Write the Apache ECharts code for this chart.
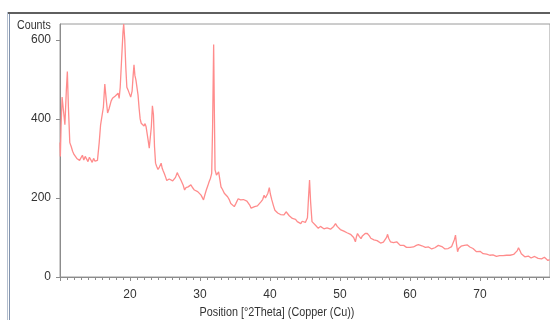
<!DOCTYPE html>
<html>
<head>
<meta charset="utf-8">
<script src="https://cdn.jsdelivr.net/npm/echarts@6/dist/echarts.min.js"></script>
<style>html,body{margin:0;padding:0;background:#fff;}#c{width:550px;height:320px;}</style>
</head>
<body>
<div id="c"></div>
<script>
var twoTheta = [10.0,10.05,10.15,10.3,10.5,10.7,10.9,11.05,11.2,11.4,11.6,11.8,12.0,12.2,12.4,12.6,12.8,13.0,13.2,13.4,13.6,13.8,14.0,14.2,14.4,14.6,14.8,15.0,15.2,15.35,15.6,15.8,16.0,16.2,16.4,16.6,16.8,17.0,17.1,17.3,17.5,17.7,17.9,18.1,18.3,18.45,18.6,18.8,19.0,19.1,19.25,19.4,19.55,19.7,19.9,20.1,20.3,20.45,20.57,20.7,20.85,21.0,21.15,21.3,21.45,21.6,21.8,22.0,22.15,22.3,22.45,22.6,22.75,22.9,23.05,23.2,23.35,23.5,23.65,23.8,24.0,24.2,24.45,24.6,24.75,24.9,25.1,25.25,25.4,25.6,25.85,26.1,26.3,26.5,26.75,26.9,27.1,27.25,27.4,27.6,27.8,28.0,28.3,28.5,28.7,28.9,29.2,29.4,29.67,29.9,30.15,30.3,30.5,30.7,30.9,31.1,31.3,31.5,31.67,31.8,31.95,32.05,32.15,32.35,32.5,32.66,32.85,33.0,33.2,33.47,33.7,33.94,34.2,34.4,34.65,34.9,35.1,35.3,35.45,35.6,35.8,36.0,36.2,36.46,36.7,36.9,37.1,37.3,37.55,37.8,38.0,38.2,38.45,38.7,38.95,39.16,39.35,39.5,39.7,39.9,40.05,40.26,40.5,40.7,40.9,41.1,41.3,41.5,41.7,42.0,42.3,42.5,42.75,42.96,43.2,43.4,43.65,43.9,44.15,44.4,44.6,44.85,45.05,45.2,45.35,45.5,45.65,45.8,46.0,46.25,46.5,46.7,46.9,47.2,47.45,47.7,47.9,48.15,48.4,48.65,48.9,49.1,49.36,49.6,49.8,50.05,50.3,50.55,50.77,51.0,51.25,51.5,51.7,51.95,52.2,52.35,52.5,52.75,53.0,53.2,53.4,53.6,53.9,54.1,54.2,54.4,54.6,54.85,55.05,55.3,55.55,55.8,56.0,56.2,56.45,56.65,56.8,56.95,57.2,57.45,57.65,57.9,58.1,58.35,58.6,58.85,59.1,59.3,59.5,59.75,60.0,60.25,60.5,60.7,60.9,61.2,61.45,61.7,61.95,62.2,62.4,62.65,62.9,63.1,63.3,63.55,63.8,64.05,64.3,64.55,64.8,65.0,65.2,65.45,65.7,65.95,66.2,66.35,66.5,66.65,66.8,66.95,67.1,67.3,67.5,67.75,67.95,68.2,68.35,68.55,68.8,69.0,69.25,69.5,69.75,70.0,70.2,70.45,70.7,70.95,71.15,71.4,71.65,71.85,72.1,72.35,72.6,72.8,73.05,73.3,73.55,73.8,74.05,74.3,74.55,74.8,75.05,75.3,75.5,75.7,75.9,76.15,76.4,76.65,76.9,77.1,77.3,77.55,77.8,78.05,78.3,78.55,78.8,79.0,79.2,79.45,79.7,79.95];
var counts = [340,305,380,455,420,385,470,520,430,340,330,318,310,315,300,305,295,300,308,296,305,300,292,303,298,290,300,293,288,295,340,385,380,430,488,450,415,425,420,445,452,455,458,462,465,452,480,550,620,640,600,530,480,474,470,455,470,510,537,510,498,495,460,427,400,389,385,382,388,380,378,345,326,330,380,433,410,330,288,280,272,278,288,275,268,262,252,244,241,248,247,243,240,252,264,258,253,246,241,232,220,226,228,225,233,227,220,224,216,212,207,202,195,208,220,230,241,250,262,380,588,420,271,258,262,266,245,228,222,212,208,203,195,186,182,178,185,190,198,203,195,190,196,195,192,190,182,174,176,178,176,180,184,190,196,207,200,203,212,226,210,195,180,169,165,162,161,158,157,157,165,161,155,152,148,144,146,140,138,135,141,144,138,135,150,200,245,190,140,136,131,127,123,128,131,122,118,124,127,121,123,128,135,128,123,120,118,116,114,112,110,108,106,100,89,102,110,103,97,104,106,110,110,114,104,98,93,94,89,92,89,86,85,88,90,100,108,98,89,91,87,86,89,84,80,83,80,76,75,78,75,77,76,79,80,82,81,79,78,75,72,76,74,71,69,74,79,80,82,77,74,71,69,72,75,77,80,95,106,82,64,72,70,78,83,80,78,81,77,76,74,72,68,64,66,65,62,59,60,58,57,55,57,56,53,52,55,54,53,54,52,55,56,55,55,57,58,66,74,67,59,55,51,52,53,50,48,51,52,49,47,45,46,48,50,45,42,44];
var xTickLabels = [20,30,40,50,60,70];
var yTickLabels = [0,200,400,600];
var xTitle = 'Position [°2Theta] (Copper (Cu))';
var yTitle = 'Counts';

var FONT = '"Liberation Sans Narrow", "Liberation Sans", Arial, sans-serif';
var seriesData = twoTheta.map(function (t, i) { return [t, counts[i]]; });

var chart = echarts.init(document.getElementById('c'), null, {renderer: 'canvas'});
chart.setOption({
  animation: false,
  backgroundColor: '#ffffff',
  grid: {left: 60, top: 24, width: 492, bottom: 43, show: true, borderColor: '#9a9a9a', borderWidth: 1, backgroundColor: 'transparent'},
  xAxis: {
    type: 'value', min: 10, max: 80, interval: 10,
    axisLine: {show: true, lineStyle: {color: '#8c8c8c', width: 1}},
    axisTick: {show: true, inside: false, length: 4, lineStyle: {color: '#8c8c8c'}},
    minorTick: {show: true, splitNumber: 10, length: 3, lineStyle: {color: '#8c8c8c'}},
    splitLine: {show: false},
    axisLabel: {customValues: xTickLabels, margin: 12, color: '#333', fontSize: 12, fontFamily: FONT}
  },
  yAxis: {
    type: 'value', min: 0, max: 640,
    axisLine: {show: true, lineStyle: {color: '#8c8c8c', width: 1}},
    axisTick: {show: true, customValues: yTickLabels, length: 4, lineStyle: {color: '#8c8c8c'}},
    splitLine: {show: false},
    axisLabel: {customValues: yTickLabels, margin: 9, color: '#333', fontSize: 12, fontFamily: FONT}
  },
  series: [{
    type: 'line', data: seriesData, showSymbol: false, symbol: 'none',
    lineStyle: {color: '#ff8c8c', width: 1.3}, clip: true
  }],
  graphic: [
    {type: 'line', shape: {x1: 7, y1: 13, x2: 550, y2: 13}, style: {stroke: '#5f5f5f', lineWidth: 2}, silent: true},
    {type: 'line', shape: {x1: 7.5, y1: 12, x2: 7.5, y2: 320}, style: {stroke: '#b4bfcf', lineWidth: 1}, silent: true},
    {type: 'line', shape: {x1: 9.5, y1: 14, x2: 9.5, y2: 320}, style: {stroke: '#8293ad', lineWidth: 1}, silent: true},
    {type: 'text', x: 17, y: 25, scaleX: 0.82, style: {text: yTitle, fill: '#333', font: '13px ' + FONT, textAlign: 'left', textVerticalAlign: 'middle'}, silent: true},
    {type: 'text', x: 277, y: 312, scaleX: 0.83, style: {text: xTitle, fill: '#333', font: '13px ' + FONT, textAlign: 'center', textVerticalAlign: 'middle'}, silent: true}
  ]
});
</script>
</body>
</html>
